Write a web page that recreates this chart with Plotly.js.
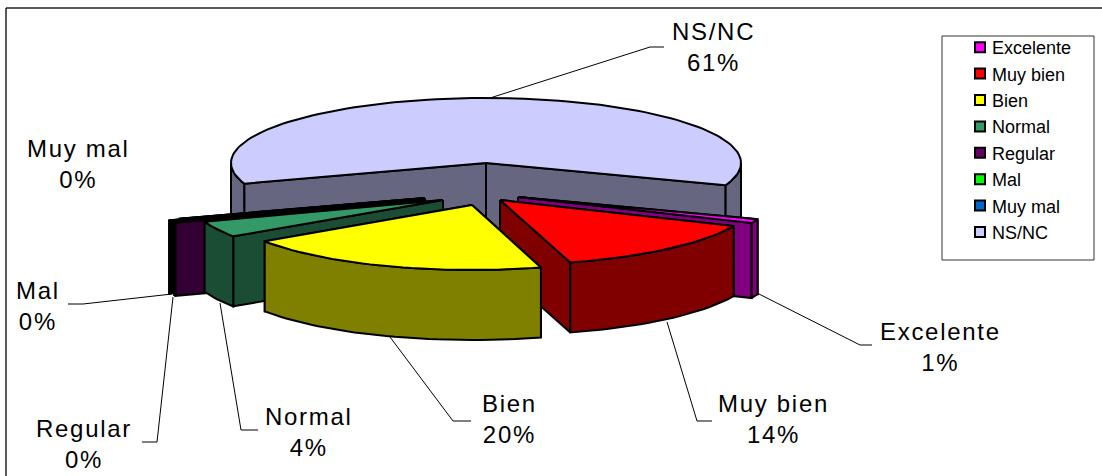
<!DOCTYPE html>
<html><head><meta charset="utf-8">
<script src="https://cdn.plot.ly/plotly-3.0.1.min.js"></script>
<style>html,body{margin:0;padding:0;background:#fff}
.annotation-text{letter-spacing:1.7px}
.legend .legendpoints{transform:translateX(8px)}</style></head>
<body><div id="chart" style="width:1102px;height:476px"></div>
<script>
// ---- data ----
const categories = ["Excelente","Muy bien","Bien","Normal","Regular","Mal","Muy mal","NS/NC"];
const legendLabels = ["Excelente","Muy bien","Bien","Normal","Regular","Mal","Muy mal","NS/NC"];
const values = [1, 14, 20, 4, 0.2, 0.05, 0.05, 60.7];
// ---- styles ----
const topColors = ["#FF00FF","#FF0000","#FFFF00","#339966","#660066","#00FF00","#0066CC","#CCCCFF"];
const wallColors = ["#800080","#800000","#808000","#1A4D33","#330033","#000000","#000000","#666680"];
const firstSliceAngle = 110;
// per-slice explosion geometry (pixels on the pixel-mapped axes)
const apexX = [518,500,472,443,425,425,425,486];
const apexY = [197,200,205,200,201,199.5,198,163];
const radX  = [255,255,250,253,265,270,259,255];
const radY  = [ 65, 65, 65, 65, 65, 65, 65, 65];
const depth = [ 75, 70, 70, 70, 73, 73, 73, 70];
const drawOrder = [7,6,5,4,3,0,1,2];
const labelX = [940,773,509,309,84,38,78,713];
const labelY = [347,419,419,432,444,306,164,47];
const leaders = [
 [[757,293],[860,345],[872,345]],
 [[667,322],[697,421],[712,421]],
 [[390,337],[453,421],[471,421]],
 [[220,303],[241,430],[258,430]],
 [[173,297],[157,442],[142,442]],
 [[172,294],[83,304],[68,304]],
 [[490,98],[650,47],[664,47]]
];

const total = values.reduce((a,b)=>a+b,0);
let acc = firstSliceAngle;
const spans = values.map(v=>{const a=acc; acc+=v/total*360; return [a,acc];});
const pt=(i,deg,dz)=>{const r=deg*Math.PI/180;
  return [apexX[i]+radX[i]*Math.sin(r), apexY[i]-radY[i]*Math.cos(r)+(dz||0)];};
const poly=(pts,fill)=>({type:"scatter",mode:"lines",x:pts.map(p=>p[0]),y:pts.map(p=>p[1]),
  fill:"toself",fillcolor:fill,line:{color:"#000",width:2},showlegend:false,hoverinfo:"skip"});
const arc=(i,a,b,dz)=>{const n=Math.max(2,Math.ceil((b-a)/2)),o=[];
  for(let k=0;k<=n;k++)o.push(pt(i,a+(b-a)*k/n,dz));return o;};

const traces=[];
drawOrder.forEach(i=>{
  const [a,b]=spans[i], d=depth[i], A=[apexX[i],apexY[i]], Ad=[A[0],A[1]+d];
  [a,b].sort((p,q)=>pt(i,p)[1]-pt(i,q)[1]).forEach(t=>{
    const c=pt(i,t),cd=pt(i,t,d);traces.push(poly([A,c,cd,Ad,A],wallColors[i]));});
  // outer wall: only the part of the rim facing the viewer (90..270 degrees)
  const segs=[[Math.max(a,90),Math.min(b,270)],[Math.max(a,450),Math.min(b,630)]];
  segs.forEach(([s,e])=>{ if(e>s){
    const up=arc(i,s,e,0),dn=arc(i,s,e,d).reverse();
    traces.push(poly(up.concat(dn,[up[0]]),wallColors[i]));}});
  traces.push(poly([A].concat(arc(i,a,b,0),[A]),topColors[i]));
});
// legend entries
categories.forEach((c,i)=>traces.push({type:"scatter",mode:"markers",x:[null],y:[null],name:legendLabels[i],
  legendgroup:c,marker:{symbol:"square",size:10,color:topColors[i],line:{color:"#000",width:2}},hoverinfo:"skip"}));

const annotations=categories.map((c,i)=>({x:labelX[i],y:labelY[i],xref:"x",yref:"y",showarrow:false,
  text:c+"<br>"+Math.round(values[i]/total*100)+"%",align:"center",xanchor:"center",yanchor:"middle",
  font:{family:"Liberation Sans, Arial, sans-serif",size:24,color:"#000"}}));
const shapes=[
 {type:"line",xref:"x",yref:"y",x0:6,y0:8,x1:1102,y1:8,line:{color:"#222",width:1.5},layer:"below"},
 {type:"line",xref:"x",yref:"y",x0:6,y0:8,x1:6,y1:476,line:{color:"#222",width:1.5},layer:"below"},
 {type:"rect",xref:"x",yref:"y",x0:942,y0:36,x1:1094,y1:260,line:{color:"#333",width:1},fillcolor:"#fff",layer:"below"}
];
leaders.forEach(L=>{for(let k=0;k+1<L.length;k++)shapes.push({type:"line",xref:"x",yref:"y",
  x0:L[k][0],y0:L[k][1],x1:L[k+1][0],y1:L[k+1][1],line:{color:"#000",width:1},layer:"above"});});

Plotly.newPlot("chart",traces,{
  width:1102,height:476,margin:{l:0,r:0,t:0,b:0},paper_bgcolor:"#fff",plot_bgcolor:"#fff",
  xaxis:{range:[0,1102],visible:false,fixedrange:true},
  yaxis:{range:[476,0],visible:false,fixedrange:true},
  annotations,shapes,
  legend:{x:952/1102,y:1-29/476,xanchor:"left",yanchor:"top",borderwidth:0,bgcolor:"rgba(0,0,0,0)",
    font:{family:"Liberation Sans, Arial, sans-serif",size:18,color:"#000"},tracegroupgap:5,itemwidth:30,traceorder:"normal",
    itemclick:false,itemdoubleclick:false}
},{displayModeBar:false,staticPlot:true});
</script></body></html>
